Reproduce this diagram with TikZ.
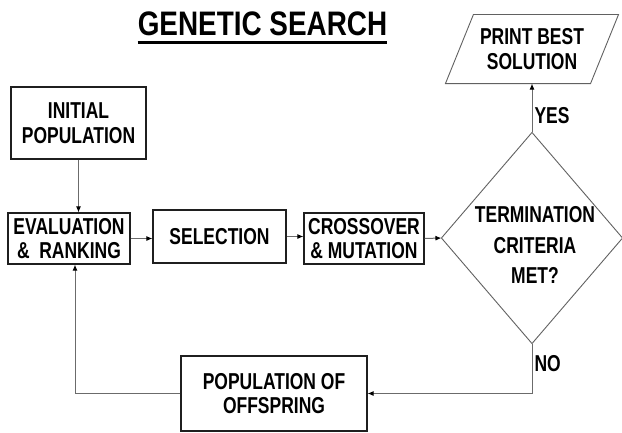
\documentclass[tikz,border=0pt]{standalone}
\usepackage{fontspec}
\setmainfont[FakeStretch=0.76]{Liberation Sans}
\newfontfamily\titlefont[FakeStretch=0.82]{Liberation Sans}
\usetikzlibrary{arrows.meta}

\begin{document}
\begin{tikzpicture}[x=1pt, y=-1pt,
		blk/.style={draw=black!88, line width=1.1pt, inner sep=0pt, align=center,
			font=\bfseries\fontsize{23}{24.5}\selectfont},
		ghost/.style={blk, draw=none},
		slant/.style={draw=black!62, line width=0.9pt},
		link/.style={draw=black!58, line width=1pt, -{Latex[length=6pt,width=5pt,color=black]}},
		tag/.style={font=\bfseries\fontsize{23}{24}\selectfont, inner sep=2pt}]
			%%%%% START %%%%%
			
			\useasboundingbox (0, 0) rectangle (622, 432);
			
			\node[font=\titlefont\bfseries\fontsize{34}{36}\selectfont, inner sep=0pt, anchor=base] (title) at (262.5, 35) {GENETIC SEARCH};
			\draw[line width=3pt] ([yshift=-7.5pt]title.base west) -- ([yshift=-7.5pt]title.base east);
			
			\node[blk, minimum width=135, minimum height=72] (init) at (78.5, 123) {INITIAL\\POPULATION};
			\node[blk, minimum width=122, minimum height=51] (eval) at (69, 238.5) {EVALUATION\\\&\ \ RANKING};
			\node[blk, minimum width=133, minimum height=53] (sel) at (219.5, 236.5) {SELECTION};
			\node[blk, minimum width=120, minimum height=51] (cross) at (364, 238.5) {CROSSOVER\\\& MUTATION};
			
			\node[ghost, minimum width=180, minimum height=210] (term) at (532, 238) {};
			\node[ghost, font=\bfseries\fontsize{23}{30.5}\selectfont] at ([xshift=3pt, yshift=-7pt]term.center) {TERMINATION\\CRITERIA\\MET?};
			\draw[slant] (term.west) -- (term.north) -- (term.east) -- (term.south) -- cycle;
			
			\node[ghost, minimum width=144, minimum height=68] (print) at (532, 49) {PRINT BEST\\SOLUTION};
			\draw[slant] ([xshift=-14pt]print.south west) -- ([xshift=-14pt]print.south east)
				-- ([xshift=14pt]print.north east) -- ([xshift=14pt]print.north west) -- cycle;
			
			\node[blk, minimum width=186, minimum height=75] (off) at (274, 393.5) {POPULATION OF\\OFFSPRING};
			
			\draw[link] (init.south) -- (init.south |- eval.north);
			\draw[link] (eval.east) -- (eval.east -| sel.west);
			\draw[link] (sel.east) -- (sel.east -| cross.west);
			\draw[link] (cross.east) -- (term.west);
			\draw[link] (term.north) -- node[tag, right, pos=0.35] {YES} (print.south);
			\draw[link] (term.south) |- node[tag, right, pos=0.2] {NO} (off.east);
			\draw[link] (off.west) -| ([xshift=6pt]eval.south);
			
			%%%%% END %%%%%
\end{tikzpicture}
\end{document}
